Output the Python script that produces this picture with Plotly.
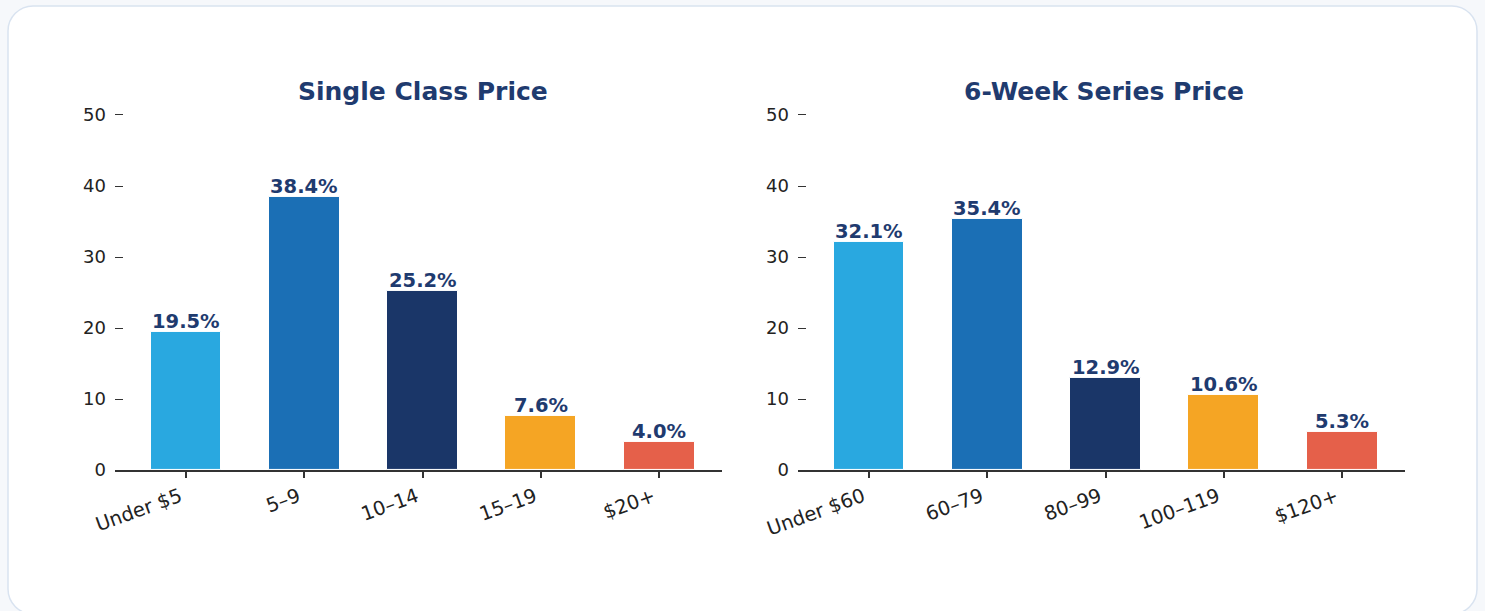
import plotly.graph_objects as go

W, H = 1485, 611

single_cats = ["Under $5", "5–9", "10–14", "15–19", "$20+"]
single_vals = [19.5, 38.4, 25.2, 7.6, 4.0]
series_cats = ["Under $60", "60–79", "80–99", "100–119", "$120+"]
series_vals = [32.1, 35.4, 12.9, 10.6, 5.3]
bar_colors = ["#29a8e0", "#1b6fb5", "#1a3668", "#f5a524", "#e5604a"]
y_ticks = [0, 10, 20, 30, 40, 50]
titles = ["Single Class Price", "6-Week Series Price"]

NAVY = "#1f3b6f"
FONT = "DejaVu Sans"


def px_x(x):
    return x / W


def px_y(y):
    return 1 - y / H


fig = go.Figure()

panels = [
    (single_cats, single_vals, (115, 722), 423, "x", "y"),
    (series_cats, series_vals, (798, 1405), 1104, "x2", "y2"),
]

YMAX = 50.15
PX_PER = (470 - 115) / 50.0

for i, (cats, vals, (xl, xr), tx, xa, ya) in enumerate(panels):
    fig.add_trace(go.Bar(
        x=list(range(len(cats))), y=vals,
        width=0.6,
        marker=dict(color=bar_colors, line=dict(color="white", width=1)),
        xaxis=xa, yaxis=ya, showlegend=False, hoverinfo="skip",
    ))
    for j, v in enumerate(vals):
        fig.add_annotation(
            x=j, y=v, xref=xa, yref=ya, text=f"<b>{v:.1f}%</b>",
            showarrow=False, xanchor="center", yanchor="bottom", yshift=-3,
            font=dict(family=FONT, size=19.5, color=NAVY),
        )
    sfx = "" if i == 0 else "2"
    fig.update_layout(**{
        "xaxis" + sfx: dict(
            domain=[px_x(xl), px_x(xr)], range=[-0.6, 4.53],
            tickvals=list(range(len(cats))), ticktext=cats, tickangle=-20,
            ticks="outside", ticklen=6, tickwidth=1.5, tickcolor="#333",
            showline=True, linecolor="#333", linewidth=2,
            showgrid=False, zeroline=False, anchor="y" + sfx,
            ticklabelshift=-6,
            tickfont=dict(family=FONT, size=19.5, color="#222"),
            fixedrange=True, automargin=False,
        ),
        "yaxis" + sfx: dict(
            domain=[px_y(470), px_y(470 - YMAX * PX_PER)], range=[0, YMAX],
            tickvals=y_ticks, ticks="inside", ticklen=8, tickwidth=1,
            tickcolor="#333", showline=False, showgrid=False, zeroline=False,
            anchor="x" + sfx, ticklabelstandoff=8,
            tickfont=dict(family=FONT, size=18, color="#222"),
            fixedrange=True, automargin=False,
        ),
    })
    fig.add_annotation(
        x=px_x(tx), y=px_y(92), xref="paper", yref="paper",
        text="<b>" + titles[i] + "</b>", showarrow=False,
        xanchor="center", yanchor="middle",
        font=dict(family=FONT, size=25, color=NAVY),
    )

# card background with rounded corners
x0, y0, x1, y1, r = 8, 6, 1477, 614, 25
k = 0.5523 * r


def P(x, y):
    return f"{px_x(x):.5f},{px_y(y):.5f}"


path = (
    f"M {P(x0 + r, y0)} L {P(x1 - r, y0)} "
    f"C {P(x1 - r + k, y0)} {P(x1, y0 + r - k)} {P(x1, y0 + r)} "
    f"L {P(x1, y1 - r)} "
    f"C {P(x1, y1 - r + k)} {P(x1 - r + k, y1)} {P(x1 - r, y1)} "
    f"L {P(x0 + r, y1)} "
    f"C {P(x0 + r - k, y1)} {P(x0, y1 - r + k)} {P(x0, y1 - r)} "
    f"L {P(x0, y0 + r)} "
    f"C {P(x0, y0 + r - k)} {P(x0 + r - k, y0)} {P(x0 + r, y0)} Z"
)
fig.add_shape(type="path", path=path, xref="paper", yref="paper",
              fillcolor="white", line=dict(color="#d9e3f0", width=1.5),
              layer="below")

fig.update_layout(
    width=W, height=H,
    margin=dict(l=0, r=0, t=0, b=0, pad=0, autoexpand=False),
    paper_bgcolor="#f6f8fb", plot_bgcolor="rgba(0,0,0,0)",
    font=dict(family=FONT, color="#222"),
    bargap=0,
)

fig.write_html(
    "out.html",
    config={"displayModeBar": False},
    post_script="document.body.style.margin='0px';document.body.style.overflow='hidden';",
)
